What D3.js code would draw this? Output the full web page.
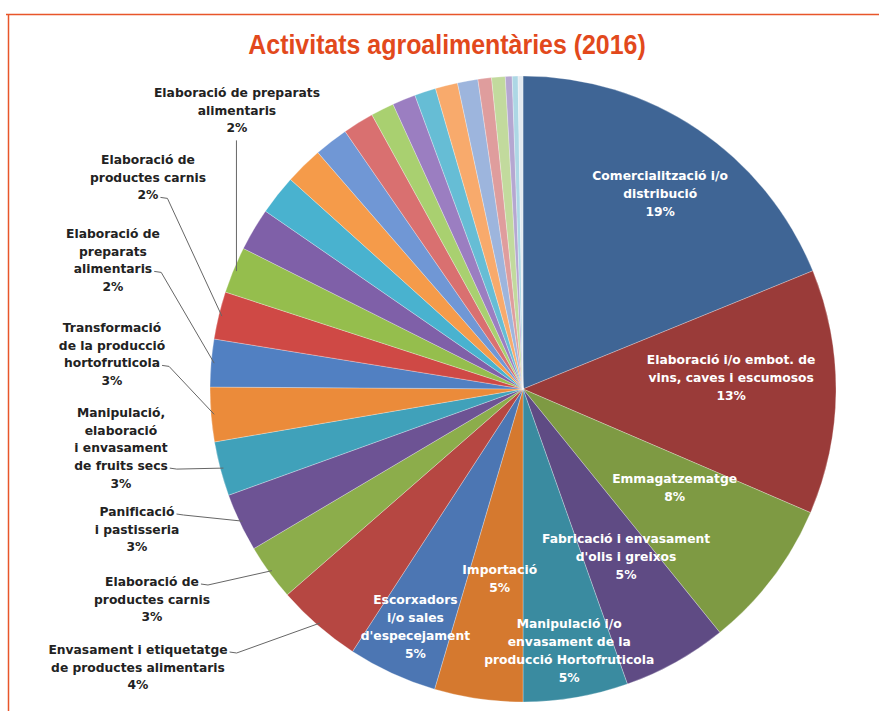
<!DOCTYPE html>
<html lang="ca">
<head>
<meta charset="utf-8">
<title>Activitats agroalimentàries (2016)</title>
<script src="https://cdn.jsdelivr.net/npm/d3@7"></script>
<style>
  body { margin: 0; background: #fff; }
  svg { display: block; }
  .titol { font-family: "Liberation Sans", Arial, sans-serif; font-weight: bold; }
  .etiqueta { font-family: "DejaVu Sans", "Liberation Sans", sans-serif; font-weight: bold; font-size: 12.3px; }
</style>
</head>
<body>
<svg id="grafic" width="879" height="711"></svg>
<script>
//-------------------Dades----------------------------------------

var titol = "Activitats agroalimentàries (2016)";

// "|" = salt de línia dins l'etiqueta, "" = sector sense etiqueta
var categories = [
    "Comercialització i/o|distribució",
    "Elaboració i/o embot. de|vins, caves i escumosos",
    "Emmagatzematge",
    "Fabricació i envasament|d'olis i greixos",
    "Manipulació i/o|envasament de la|producció Hortofruticola",
    "Importació",
    "Escorxadors|i/o sales|d'especejament",
    "Envasament i etiquetatge|de productes alimentaris",
    "Elaboració de|productes carnis",
    "Panificació|i pastisseria",
    "Manipulació,|elaboració|i envasament|de fruits secs",
    "Transformació|de la producció|hortofruticola",
    "Elaboració de|preparats|alimentaris",
    "Elaboració de|productes carnis",
    "Elaboració de preparats|alimentaris",
    "", "", "", "", "", "", "", "", "", "", "", "", "", "", ""
];

var valors = [
    18.8, 12.6, 7.7, 5.4, 5.4, 4.55, 4.6, 4.4, 2.9, 3.0, 2.8, 2.8,
    2.45, 2.45, 2.4, 2.2, 2.05, 1.95, 1.75, 1.6, 1.2, 1.2, 1.1, 1.15,
    1.05, 0.7, 0.7, 0.35, 0.3, 0.25
];

var colors = [
    "#3F6595", "#9A3B39", "#7E9A43", "#5F4B84", "#3A8BA0", "#D5792F",
    "#4C76B3", "#B64742", "#8CAD4B", "#6D5394", "#40A1BA", "#EB8B3A",
    "#5180C2", "#CF4945", "#95BE4D", "#7F60A8", "#49B2CF", "#F59B4A",
    "#7097D5", "#D97070", "#A9D070", "#9B7EC1", "#66BDD5", "#F8AA6C",
    "#9DB5DD", "#DF9D9D", "#C2DA9D", "#B5A7D1", "#ADD7E5", "#E4EAF0"
];

//-------------------Disposició----------------------------------------

var cx = 523, cy = 389, radi = 313;

// etiquetes dins del sector : fracció del radi i desplaçament d'angle (graus)
var dins = [
    {i: 0, f: 0.764, da: 1.1},
    {i: 1, f: 0.666, da: -3.6},
    {i: 2, f: 0.578, da: -4.1},
    {i: 3, f: 0.628, da: -2.4},
    {i: 4, f: 0.848, da: -0.3},
    {i: 5, f: 0.611, da: -1.2},
    {i: 6, f: 0.832, da: -0.3}
];

// etiquetes de fora : posició del text, línia on s'enganxa la guia
var fora = [
    {i: 7,  x: 138, y: 654, linia: 0},
    {i: 8,  x: 152, y: 586, linia: 0},
    {i: 9,  x: 137, y: 516, linia: 0},
    {i: 10, x: 121, y: 417, linia: 3},
    {i: 11, x: 112, y: 332, linia: 2},
    {i: 12, x: 113, y: 238, linia: 2},
    {i: 13, x: 148, y: 164, linia: 2},
    {i: 14, x: 237, y: 97,  linia: -1}
];

var interlinia = 17.7;

//-------------------Dibuix----------------------------------------

var svg = d3.select("#grafic");
var total = d3.sum(valors);

function percent(v) {
    return Math.round(v / total * 100) + "%";
}

// marc
svg.append("path")
    .attr("d", "M6,14.5H879M8.5,14V711")
    .attr("fill", "none")
    .attr("stroke", "#E8562A")
    .attr("stroke-width", 1.5);

// títol estret (escala horitzontal)
svg.append("text")
    .attr("class", "titol")
    .attr("transform", "translate(447,54) scale(0.89,1)")
    .attr("text-anchor", "middle")
    .attr("font-size", 28)
    .attr("fill", "#E2491C")
    .text(titol);

var pie = d3.pie().sort(null).value(function(d) { return d; });
var arcs = pie(valors);

var arc = d3.arc().innerRadius(0).outerRadius(radi);
var arcVora = d3.arc().innerRadius(radi * 0.99).outerRadius(radi * 0.99);

var g = svg.append("g").attr("transform", "translate(" + cx + "," + cy + ")");

g.selectAll("path.sector")
    .data(arcs)
    .enter()
    .append("path")
    .attr("class", "sector")
    .attr("d", arc)
    .attr("fill", function(d, i) { return colors[i]; })
    .attr("stroke", "#fff")
    .attr("stroke-opacity", 0.4)
    .attr("stroke-width", 0.7);

// etiquetes blanques dins dels sectors
for (let e of dins) {
    let d = arcs[e.i];
    let mig = (d.startAngle + d.endAngle) / 2 + e.da * Math.PI / 180;
    let px = Math.sin(mig) * radi * e.f;
    let py = -Math.cos(mig) * radi * e.f;
    let linies = categories[e.i].split("|").concat([percent(valors[e.i])]);
    let y0 = py - (linies.length - 1) * 18 / 2 + 4.5;

    let t = g.append("text")
        .attr("class", "etiqueta")
        .attr("text-anchor", "middle")
        .attr("fill", "#fff");
    linies.forEach(function(l, k) {
        t.append("tspan").attr("x", px).attr("y", y0 + k * 18).text(l);
    });
}

// etiquetes negres de fora amb línia guia
for (let e of fora) {
    let linies = categories[e.i].split("|").concat([percent(valors[e.i])]);
    let t = svg.append("text")
        .attr("class", "etiqueta")
        .attr("text-anchor", "middle")
        .attr("fill", "#222");
    let spans = [];
    linies.forEach(function(l, k) {
        spans.push(t.append("tspan").attr("x", e.x).attr("y", e.y + k * interlinia).text(l));
    });

    let vora = arcVora.centroid(arcs[e.i]);
    let ex = vora[0] + cx, ey = vora[1] + cy;
    let punts;
    if (e.linia < 0) {
        let yb = e.y + (linies.length - 1) * interlinia + 8;
        punts = [[ex, yb], [ex, ey]];
    } else {
        let w = spans[e.linia].node().getComputedTextLength();
        let x0 = e.x + w / 2 + 2;
        let y0 = e.y + e.linia * interlinia - 2;
        punts = [[x0, y0], [x0 + 7, y0 + 1], [ex, ey]];
    }
    svg.append("path")
        .attr("d", d3.line()(punts))
        .attr("fill", "none")
        .attr("stroke", "#666")
        .attr("stroke-width", 1);
}
</script>
</body>
</html>
